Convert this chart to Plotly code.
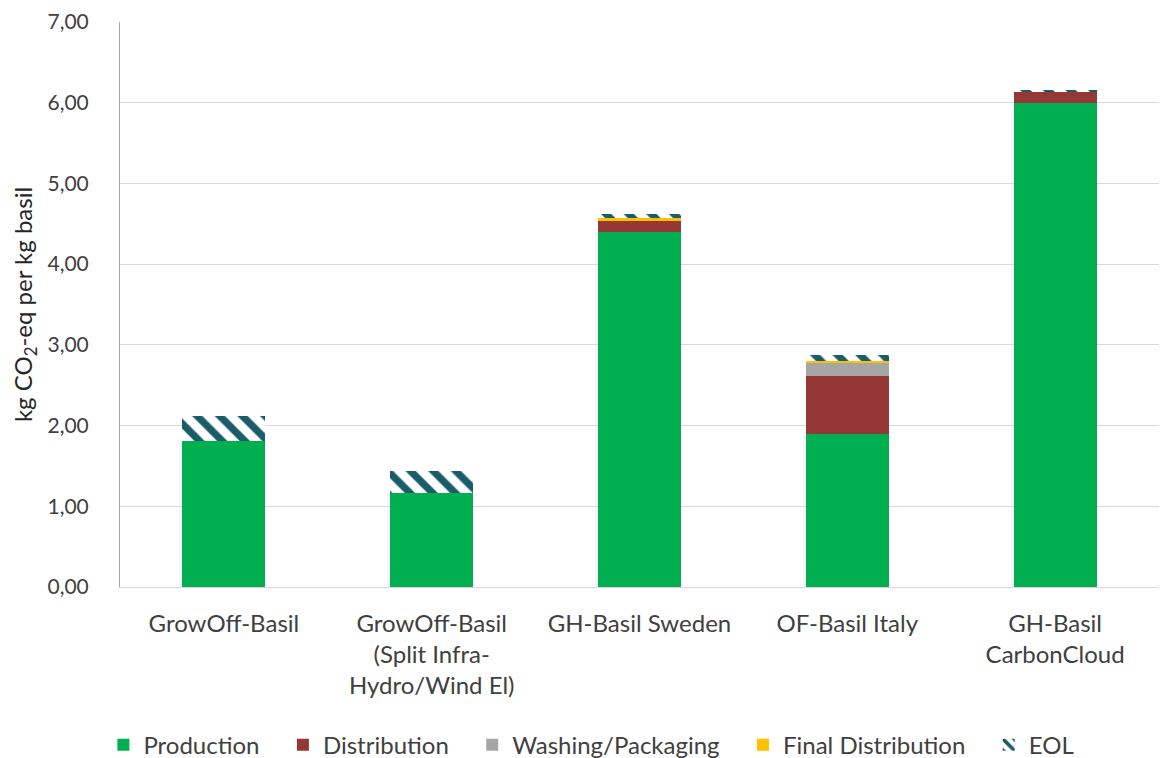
import plotly.graph_objects as go

categories = [
    "GrowOff-Basil",
    "GrowOff-Basil<br>(Split Infra-<br>Hydro/Wind El)",
    "GH-Basil Sweden",
    "OF-Basil Italy",
    "GH-Basil<br>CarbonCloud",
]

production = [1.81, 1.16, 4.40, 1.90, 6.00]
distribution = [0.00, 0.00, 0.14, 0.72, 0.13]
washing_packaging = [0.00, 0.00, 0.00, 0.15, 0.00]
final_distribution = [0.00, 0.00, 0.03, 0.03, 0.00]
eol = [0.31, 0.28, 0.05, 0.07, 0.03]

font_family = "Lato"
text_color = "#404040"
# extra room after each legend label
pad = "\u00a0" * 3

fig = go.Figure()

solid_series = [
    ("Production", production, "#00B050"),
    ("Distribution", distribution, "#953735"),
    ("Washing/Packaging", washing_packaging, "#A6A6A6"),
    ("Final Distribution", final_distribution, "#FFC000"),
]
for name, values, color in solid_series:
    fig.add_trace(go.Bar(
        name=name + pad, x=categories, y=values,
        marker=dict(color=color, line=dict(width=0)),
    ))

fig.add_trace(go.Bar(
    name="EOL", x=categories, y=eol,
    marker=dict(
        color="white",
        line=dict(width=0),
        pattern=dict(shape="\\", fgcolor="#1A5C68", bgcolor="white",
                     size=16, solidity=0.45, fillmode="replace"),
    ),
))

fig.update_layout(
    barmode="stack",
    bargap=0.6,
    width=1161,
    height=758,
    margin=dict(l=120, r=2, t=22, b=171, autoexpand=False),
    plot_bgcolor="white",
    paper_bgcolor="white",
    font=dict(family=font_family, size=22, color=text_color),
    separators=",.",
    showlegend=True,
    legend=dict(
        orientation="h",
        x=-0.016, xanchor="left",
        y=-0.28, yanchor="middle",
        font=dict(size=24, color=text_color),
        traceorder="normal",
        itemwidth=30,
    ),
    yaxis=dict(
        range=[0, 7],
        dtick=1,
        tickformat=".2f",
        showgrid=True,
        gridcolor="#D9D9D9",
        gridwidth=1,
        zeroline=False,
        showline=True,
        linecolor="#A6A6A6",
        linewidth=1,
        ticks="",
        automargin=False,
        ticklabelstandoff=26,
        tickfont=dict(size=21, color=text_color),
        title=dict(text="kg CO<sub>2</sub>-eq per kg basil",
                   font=dict(size=24, color="#262626"), standoff=8),
    ),
    xaxis=dict(
        showline=True,
        linecolor="#D9D9D9",
        linewidth=1,
        ticks="",
        automargin=False,
        ticklabelstandoff=15,
        tickfont=dict(size=24, color=text_color),
    ),
)

fig.write_html("out.html")
